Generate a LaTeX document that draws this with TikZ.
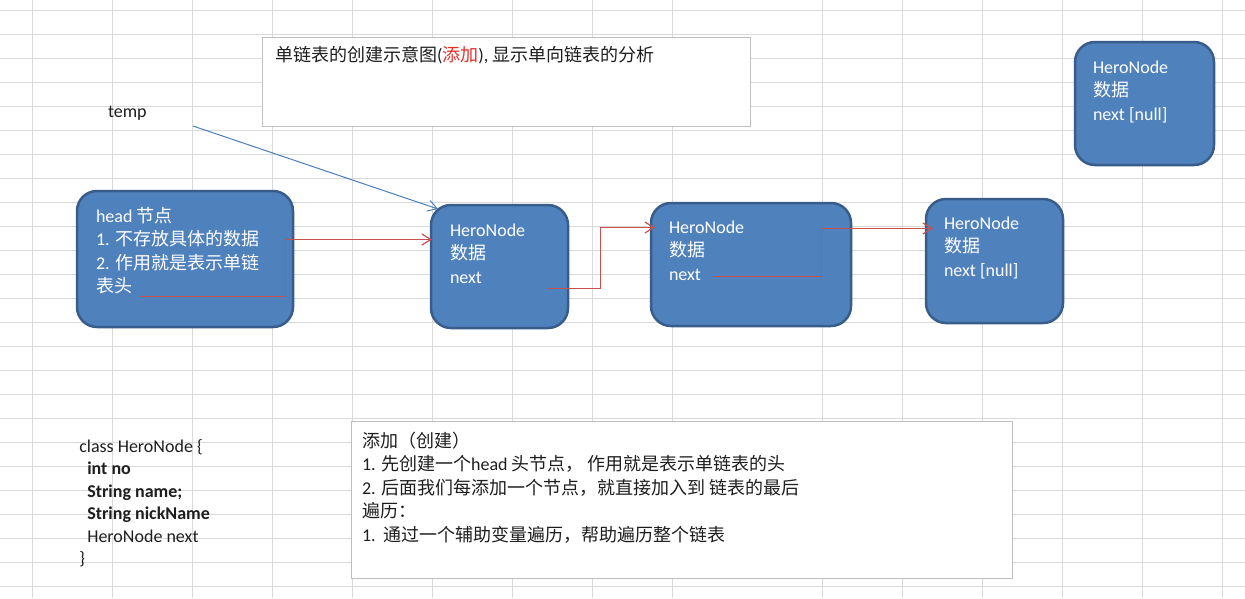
\documentclass[tikz,border=0pt]{standalone}
\usepackage{fontspec}
\setmainfont{Carlito}
\newfontfamily\cjk{Noto Sans CJK SC}
\newcommand\zh[1]{{\cjk #1}}
\usetikzlibrary{arrows.meta,calc}
\definecolor{nodefill}{HTML}{4F81BD}
\definecolor{nodeborder}{HTML}{385D8A}
\definecolor{gridcol}{HTML}{D9D9D9}
\definecolor{redline}{HTML}{C8504D}
\definecolor{blueline}{HTML}{4A7EBB}
\definecolor{boxborder}{HTML}{BFBFBF}
\definecolor{textcol}{HTML}{1E1E1E}
\definecolor{redtext}{HTML}{E8302A}
\begin{document}
\begin{tikzpicture}[x=1pt,y=-1pt,
  gridline/.style={draw=gridcol, line width=1pt},
  nodebox/.style={draw=nodeborder, line width=2.5pt, fill=nodefill, rounded corners=20pt, inner sep=0pt, outer sep=0pt},
  plainbox/.style={draw=boxborder, line width=1pt, fill=white, inner sep=0pt, outer sep=0pt},
  txt/.style={anchor=base west, inner sep=0pt, outer sep=0pt, align=left, text=textcol, font=\fontsize{18}{23.5}\selectfont},
  wtxt/.style={txt, text=white},
  redarrow/.style={draw=redline, line width=1.2pt, -{Straight Barb[length=9pt,width=11pt]}},
  bluearrow/.style={draw=blueline, line width=1pt, -{Straight Barb[length=9pt,width=11pt]}}]
\useasboundingbox (0,0) rectangle (1245,598);
\fill[white] (0,0) rectangle (1245,598);
% spreadsheet grid
\foreach \x in {32,112,192,272,352,432,512,592,672,822,902,982,1062,1142,1222}
  \draw[gridline] (\x,0) -- (\x,598);
\foreach \k in {0,...,24}
  \draw[gridline] (0,{10.3+24*\k}) -- (1245,{10.3+24*\k});
% boxes
\node[plainbox, minimum width=488.4pt, minimum height=88.7pt] (title) at (506.5,81.7) {};
\node[plainbox, minimum width=661pt, minimum height=156.6pt] (notes) at (681.5,500) {};
\node[nodebox, minimum width=216pt, minimum height=136pt] (head) at (185,259) {};
\node[nodebox, minimum width=137pt, minimum height=123pt] (n1) at (499.5,266.5) {};
\node[nodebox, minimum width=200pt, minimum height=123pt] (n2) at (751,264.5) {};
\node[nodebox, minimum width=137pt, minimum height=124pt] (n3) at (994.5,261) {};
\node[nodebox, minimum width=139pt, minimum height=123pt] (n4) at (1144.5,103.5) {};
% texts (multi-line nodes: base = baseline of last line)
\node[txt] (titletext) at (275,61) {\zh{单链表的创建示意图}(\textcolor{redtext}{\zh{添加}}), \zh{显示单向链表的分析}};
\node[txt] (temp) at (108,117) {temp};
\node[wtxt] (headtext) at (96,292.5) {head \zh{节点}\\1. \zh{不存放具体的数据}\\2. \zh{作用就是表示单链}\\\zh{表头}};
\node[wtxt] (n1text) at (450,283) {HeroNode\\\zh{数据}\\next};
\node[wtxt] (n2text) at (669,280) {HeroNode\\\zh{数据}\\next};
\node[wtxt] (n3text) at (944,276) {HeroNode\\\zh{数据}\\next [null]};
\node[wtxt] (n4text) at (1093,120) {HeroNode\\\zh{数据}\\next [null]};
\node[txt, font=\fontsize{18}{22.5}\selectfont] (classtext) at (79.3,564.5) {class HeroNode \{\\\hspace*{8pt}\textbf{int no}\\\hspace*{8pt}\textbf{String name;}\\\hspace*{8pt}\textbf{String nickName}\\\hspace*{8pt}HeroNode next\\\}};
\node[txt] (notestext) at (362,541) {\zh{添加（创建）}\\1. \zh{先创建一个}head \zh{头节点， 作用就是表示单链表的头}\\2. \zh{后面我们每添加一个节点，就直接加入到 链表的最后}\\\zh{遍历：}\\1.\ \ \zh{通过一个辅助变量遍历，帮助遍历整个链表}};
% connectors
\coordinate (tempstart) at (193,126);
\coordinate (c1s) at (140,296.5);
\coordinate (c2s) at (547,288.5);
\coordinate (c3s) at (713,276.5);
\draw[bluearrow] (tempstart) -- ($(n1.north west)+(7,4)$);
\draw[redarrow] (c1s) -- (285.5,296.5) |- ($(n1.west)+(1,-27)$);
\draw[redarrow] (c2s) -- (600.5,288.5) |- ($(n2.west)+(4,-37)$);
\draw[redarrow] (c3s) -- (821.5,276.5) |- ($(n3.west)+(7,-32.5)$);
\end{tikzpicture}
\end{document}
